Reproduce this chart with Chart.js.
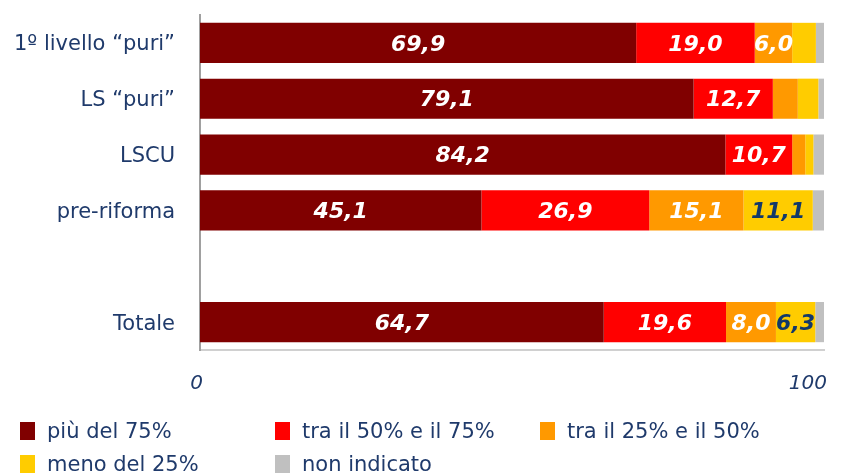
<!DOCTYPE html>
<html>
<head>
<meta charset="utf-8">
<script src="https://cdn.jsdelivr.net/npm/chart.js@4"></script>
<style>
  body { margin: 0; background: #fff; }
  #wrap { position: relative; width: 845px; height: 475px; overflow: hidden; }
  .legend { position: absolute; font-family: "DejaVu Sans", Verdana, sans-serif; font-size: 21px; color: #1f3a6b; white-space: nowrap; }
  .legend span.box { display: inline-block; width: 15px; height: 18px; vertical-align: -2px; margin-right: 12px; }
</style>
</head>
<body>
<div id="wrap">
  <canvas id="chart" width="845" height="475"></canvas>
  <div id="legend"></div>
</div>
<script>
const categories = ["1º livello “puri”", "LS “puri”", "LSCU", "pre-riforma", "", "Totale"];
const seriesNames = ["più del 75%", "tra il 50% e il 75%", "tra il 25% e il 50%", "meno del 25%", "non indicato"];
const over75 = [69.9, 79.1, 84.2, 45.1, null, 64.7];
const from50to75 = [19.0, 12.7, 10.7, 26.9, null, 19.6];
const from25to50 = [6.0, 4.0, 2.1, 15.1, null, 8.0];
const under25 = [3.8, 3.3, 1.3, 11.1, null, 6.3];
const notGiven = [1.3, 0.9, 1.7, 1.8, null, 1.4];
const tickLabels = [0, 100];

const colors = ["#800000", "#ff0000", "#ff9900", "#ffcc00", "#c0c0c0"];
const labelColors = ["#ffffff", "#ffffff", "#ffffff", "#12386a", "#12386a"];
const navy = "#1f3a6b";
const font = "'DejaVu Sans', Verdana, sans-serif";

const allSeries = [over75, from50to75, from25to50, under25, notGiven];

// labels inside the bars (comma decimals)
const barLabels = {
  id: "barLabels",
  afterDatasetsDraw(chart) {
    const ctx = chart.ctx;
    ctx.save();
    ctx.font = "italic bold 22px " + font;
    ctx.textAlign = "center";
    ctx.textBaseline = "middle";
    chart.data.datasets.forEach((ds, i) => {
      chart.getDatasetMeta(i).data.forEach((bar, j) => {
        const v = ds.data[j];
        if (v == null || v < 5) return;
        ctx.fillStyle = labelColors[i];
        ctx.fillText(v.toFixed(1).replace(".", ","), bar.base + (bar.x - bar.base) / 2, bar.y + 2);
      });
    });
    ctx.restore();
  }
};

new Chart(document.getElementById("chart"), {
  type: "bar",
  data: {
    labels: categories,
    datasets: allSeries.map((d, i) => ({
      label: seriesNames[i],
      data: d,
      backgroundColor: colors[i],
      borderWidth: 0,
      barPercentage: 0.72,
      categoryPercentage: 1
    }))
  },
  options: {
    indexAxis: "y",
    responsive: false,
    animation: false,
    layout: { padding: { top: 15, right: 21, bottom: 80, left: 0 } },
    plugins: { legend: { display: false }, tooltip: { enabled: false } },
    scales: {
      x: {
        stacked: true,
        min: 0,
        max: 100,
        afterBuildTicks(axis) { axis.ticks = tickLabels.map(v => ({ value: v })); },
        afterFit(axis) { axis.height = 45; axis.paddingLeft = 0; axis.paddingRight = 0; },
        grid: { display: false, drawTicks: false },
        border: { color: "#d0d0d0", width: 2 },
        ticks: { padding: 22, align: "end", labelOffset: 3, color: navy, font: { family: font, size: 20, style: "italic" }, maxRotation: 0 }
      },
      y: {
        stacked: true,
        afterFit(axis) { axis.width = 200; axis.paddingTop = 0; axis.paddingBottom = 0; },
        grid: { display: false, drawTicks: false },
        border: { color: "#a0a0a0", width: 2 },
        ticks: { padding: 25, labelOffset: 2, color: navy, font: { family: font, size: 21 } }
      }
    }
  },
  plugins: [barLabels]
});

// legend laid out in fixed columns
const legendPos = [[20, 419], [275, 419], [540, 419], [20, 452], [275, 452]];
const legendEl = document.getElementById("legend");
seriesNames.forEach((name, i) => {
  const d = document.createElement("div");
  d.className = "legend";
  d.style.left = legendPos[i][0] + "px";
  d.style.top = legendPos[i][1] + "px";
  d.innerHTML = '<span class="box" style="background:' + colors[i] + '"></span>' + name;
  legendEl.appendChild(d);
});
</script>
</body>
</html>
